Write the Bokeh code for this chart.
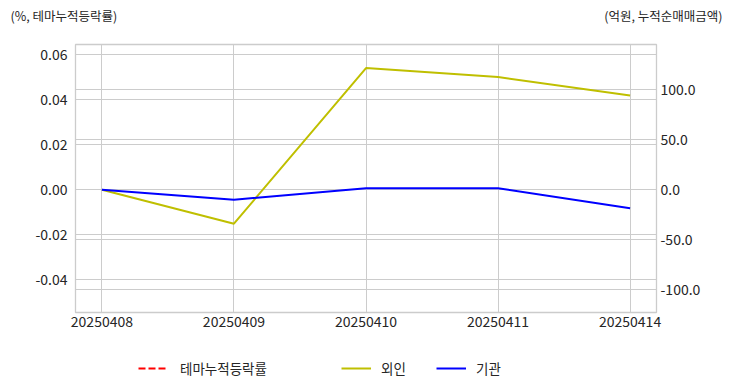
from bokeh.plotting import figure
from bokeh.layouts import column
from bokeh.models import (Range1d, LinearAxis, FixedTicker, NumeralTickFormatter, Grid,
                          Legend, LegendItem, Label, ColumnDataSource)
from bokeh.embed import file_html
from bokeh.resources import INLINE

dates = ["20250408", "20250409", "20250410", "20250411", "20250414"]
theme_rate = [float("nan")] * 5          # 테마누적등락률 (not drawn in reference)
foreign = [0.0, -34.0, 122.0, 113.0, 94.5]   # 외인
inst = [0.0, -10.0, 1.5, 1.5, -18.5]         # 기관
left_ticks = [-0.04, -0.02, 0.0, 0.02, 0.04, 0.06]
right_ticks = [-100, -50, 0, 50, 100]
series_names = ["테마누적등락률", "외인", "기관"]
left_title = "(%, 테마누적등락률)"
right_title = "(억원, 누적순매매금액)"

FONT = "Noto Sans CJK KR"
GRID = "#cccccc"
TXT = "#262626"
W = 724

xs = list(range(len(dates)))

# ---- top strip with the axis titles ----
top = figure(width=W, height=40, output_backend="svg", toolbar_location=None,
             x_range=Range1d(0, W), y_range=Range1d(0, 40),
             min_border=0, x_axis_type=None, y_axis_type=None)
top.frame_align = False
top.outline_line_color = None
top.grid.visible = False
top.add_layout(Label(x=10, y=25, text=left_title, text_font=FONT, text_font_size="12.5px",
                     text_color=TXT, text_baseline="middle"))
top.add_layout(Label(x=722, y=25, text=right_title, text_font=FONT, text_font_size="12.5px",
                     text_color=TXT, text_baseline="middle", text_align="right"))

# ---- main chart ----
p = figure(width=W, height=300, output_backend="svg", toolbar_location=None,
           x_range=Range1d(-0.2, 4.2), y_range=Range1d(-0.0547, 0.0644),
           min_border_left=75, min_border_right=68, min_border_top=4, min_border_bottom=28)
p.frame_align = False
p.frame_width = 581
p.frame_height = 268
p.extra_y_ranges = {"right": Range1d(-123, 145.6)}

p.outline_line_color = GRID
p.outline_line_width = 1.3

p.xaxis.ticker = FixedTicker(ticks=xs)
p.xaxis.major_label_overrides = {i: d for i, d in enumerate(dates)}
p.yaxis.ticker = FixedTicker(ticks=left_ticks)
p.yaxis.formatter = NumeralTickFormatter(format="0.00")

ra = LinearAxis(y_range_name="right", ticker=FixedTicker(ticks=right_ticks),
                formatter=NumeralTickFormatter(format="0.0"))
p.add_layout(ra, "right")

for ax in [p.xaxis[0], p.yaxis[0], ra]:
    ax.axis_line_color = None
    ax.major_tick_line_color = None
    ax.minor_tick_line_color = None
    ax.major_tick_out = 0
    ax.major_tick_in = 0
    ax.minor_tick_out = 0
    ax.major_label_text_font = FONT
    ax.major_label_text_font_size = "14px"
    ax.major_label_text_color = TXT
p.xaxis.major_label_standoff = 3
p.yaxis.major_label_standoff = 8
ra.major_label_standoff = 4

p.xgrid.grid_line_color = GRID
p.ygrid.grid_line_color = GRID
rg = Grid(dimension=1, ticker=ra.ticker, y_range_name="right",
          grid_line_color=GRID, grid_line_width=1)
p.add_layout(rg)

src = ColumnDataSource(dict(x=xs, theme=theme_rate, foreign=foreign, inst=inst))
styles = [dict(line_color="#ff0000", line_width=2, line_dash="7 3"),
          dict(line_color="#bfbf00", line_width=2),
          dict(line_color="#0000ff", line_width=2)]
p.line("x", "theme", source=src, **styles[0])
p.line("x", "foreign", source=src, y_range_name="right", **styles[1])
p.line("x", "inst", source=src, y_range_name="right", **styles[2])

# ---- legend strip ----
leg = figure(width=W, height=44, output_backend="svg", toolbar_location=None,
             x_range=Range1d(0, W), y_range=Range1d(0, 44),
             min_border=0, x_axis_type=None, y_axis_type=None)
leg.frame_align = False
leg.outline_line_color = None
leg.grid.visible = False
locs = [(138, 6), (341, 6), (436, 6)]
standoffs = [14, 10, 10]
gwidths = [28, 30, 30]
for name, st, loc, so, gw in zip(series_names, styles, locs, standoffs, gwidths):
    proxy = leg.line("x", "theme", source=src, **st)   # all-NaN: legend glyph only
    lg = Legend(items=[LegendItem(label=name, renderers=[proxy])], location=loc,
                orientation="horizontal", border_line_color=None, background_fill_alpha=0,
                padding=0, margin=0, glyph_width=gw, glyph_height=16, label_standoff=so,
                label_text_font=FONT, label_text_font_size="13.5px", label_text_color=TXT)
    leg.add_layout(lg)

layout = column(top, p, leg, spacing=0)
open("out.html", "w").write(file_html(layout, INLINE))
